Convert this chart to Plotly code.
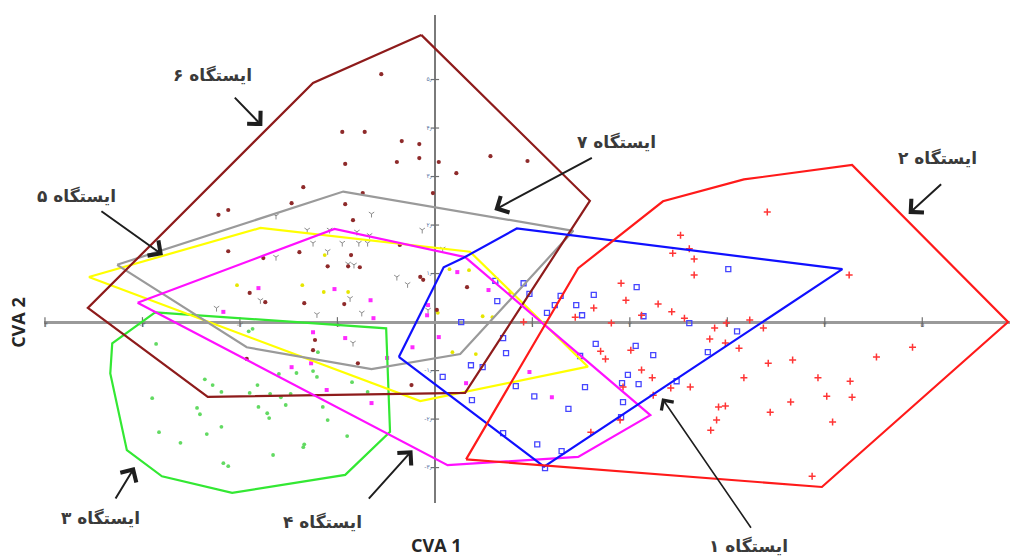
import plotly.graph_objects as go

# ---------------- data (CVA 1, CVA 2) ----------------
# convex hull vertices per station
h1_x = [-0.37, 0.09, 0.29, 0.84, 4.18, 1.12]
h1_y = [-0.72, 1.13, 1.32, 1.93, 1.09, -2.98]
h2_x = [0.32, 1.47, 2.34, 3.17, 4.28, 5.88, 3.97]
h2_y = [-2.83, 1.11, 2.49, 2.94, 3.24, 0.00, -3.40]
h3_x = [-2.87, -0.50, -0.46, -0.92, -2.08, -2.80, -3.16, -3.33, -3.31]
h3_y = [0.20, -0.13, -2.26, -3.15, -3.52, -3.18, -2.64, -1.06, -0.44]
h4_x = [-3.05, -1.03, 0.31, 2.21, 1.47, 0.13]
h4_y = [0.40, 1.92, 1.34, -1.92, -2.78, -2.95]
h5_x = [-3.55, -1.79, 0.36, 1.57, -0.15]
h5_y = [0.93, 1.94, 1.45, -0.92, -1.63]
h6_x = [-0.14, -1.25, -3.56, -2.33, 0.31, 1.59]
h6_y = [5.92, 4.93, 0.29, -1.54, -1.46, 2.50]
h7_x = [-3.26, -1.93, -0.65, 0.26, 1.42, -0.94]
h7_y = [1.18, -0.52, -0.97, -0.66, 1.88, 2.69]

# observations per station
p1_x = [0.62, 0.64, 0.91, 0.97, 1.23, 1.29, 1.15, 1.45, 1.51, 1.63, 2.07, 3.01, 2.14, 0.27,
        0.70, 0.73, 1.65, 2.06, 2.24, 1.49, 0.37, 0.49, 0.08, 0.83, 0.38, 1.02, 1.54, 1.92,
        2.09, 1.98, 1.93, 1.37, 1.91, 2.80, 2.61, 0.70, 1.05, 1.30, 1.13, 2.48, 3.10]
p1_y = [0.85, 0.43, 0.80, 0.58, 0.35, 0.54, 0.19, 0.35, 0.14, 0.56, 0.72, 1.09, 0.12, 0.00,
        -0.33, -0.64, -0.45, -0.49, -0.68, -0.70, -0.89, -0.93, -1.13, -1.32, -1.61, -1.53, -1.34, -1.26,
        -1.28, -1.09, -1.65, -1.79, -1.96, -0.62, -0.02, -2.29, -2.52, -2.66, -3.01, -1.22, -0.19]
p2_x = [3.41, 2.52, 2.61, 2.44, 2.66, 2.66, 4.25, 1.91, 1.96, 2.29, 1.63, 2.43, 2.56, 2.12,
        1.44, 1.81, 3.23, 2.87, 2.99, 3.37, 2.82, 2.98, 3.12, 4.90, 4.53, 1.70, 1.75, 2.01,
        3.42, 3.67, 2.12, 2.23, 3.17, 3.93, 4.26, 1.93, 2.62, 2.24, 2.42, 4.02, 4.28, 3.65,
        2.91, 2.98, 3.44, 2.89, 2.83, 4.08, 1.60, 3.87, 1.90, 0.91]
p2_y = [2.27, 1.79, 1.51, 1.42, 1.30, 0.97, 0.97, 0.80, 0.45, 0.37, 0.29, 0.21, 0.08, 0.14,
        0.10, -0.02, 0.04, -0.12, -0.02, -0.12, -0.35, -0.43, -0.54, -0.52, -0.72, -0.60, -0.76, -0.58,
        -0.85, -0.78, -0.99, -1.15, -1.15, -1.15, -1.22, -1.34, -1.34, -1.51, -1.36, -1.53, -1.55, -1.65,
        -1.75, -1.73, -1.86, -2.02, -2.23, -2.06, -2.27, -3.18, -2.02, 0.00]
p3_x = [-2.86, -2.36, -2.28, -2.19, -2.90, -2.44, -2.41, -2.19, -2.83, -2.34, -2.61, -2.17, -2.12,
        -1.82, -1.69, -1.58, -1.53, -1.48, -1.81, -1.72, -1.70, -1.60, -1.42, -1.21, -1.25, -1.20,
        -0.85, -0.69, -1.15, -1.10, -0.90, -1.34, -1.35, -1.66, -1.90, -1.91, -1.87]
p3_y = [-0.45, -1.18, -1.30, -1.44, -1.57, -1.77, -1.90, -2.16, -2.27, -2.31, -2.49, -2.91, -2.97,
        -1.30, -1.48, -1.55, -1.71, -1.48, -1.75, -1.88, -1.98, -1.07, -1.05, -1.13, -1.01, -0.62,
        -1.24, -1.44, -1.75, -2.02, -2.35, -2.52, -2.58, -2.74, -1.46, -0.19, -0.14]
p4_x = [-1.81, -1.03, -0.66, -2.17, -1.25, -0.92, -0.63, -1.47, -1.27, -1.11, -0.65, -0.23,
        -0.49, -0.08, 0.04, 0.32, 0.23, 0.55, 0.97, 1.20, -0.07]
p4_y = [0.70, 0.68, 0.45, 0.21, -0.21, -0.33, 0.08, -0.93, -0.85, -1.40, -1.67, -0.52,
        -0.74, 0.14, -0.31, -1.26, 1.03, 0.66, -1.03, -1.55, 0.35]
p5_x = [-2.03, -1.36, -1.13, -0.89, -1.14, 0.15, 0.35, 0.18, 0.42, 0.59, 0.49, 0.77, 0.03]
p5_y = [0.76, 0.76, 1.38, 0.62, 0.62, 1.09, 1.07, -0.62, -0.66, 0.10, 0.12, 0.60, 0.19]
p6_x = [-0.55, -0.95, -0.72, -0.34, -0.16, -0.92, -0.39, -0.16, 0.04, 0.22, -0.02, -1.35, -1.47,
        -0.92, -0.74, -0.84, -2.22, -2.12, -2.12, -1.39, -1.76, -1.10, -0.86, -0.89, -0.77, -0.36,
        -0.15, -1.90, -1.74, -1.34, -0.93, 0.57, 0.95, 0.02, -1.23, -1.25, 0.33, -0.12, -0.24,
        -1.93, -0.79]
p6_y = [5.11, 3.92, 3.92, 3.73, 3.67, 3.26, 3.30, 3.38, 3.30, 3.07, 2.66, 2.78, 2.45,
        2.43, 2.66, 2.10, 2.21, 2.31, 1.46, 1.44, 1.32, 1.15, 1.38, 1.15, 1.13, 1.59,
        0.93, 0.60, 0.41, 0.39, 0.37, 3.42, 3.32, 0.25, -0.37, -0.58, 0.72, 0.87, -1.30,
        -0.76, -0.85]
p7_x = [-1.63, -0.65, -1.08, -1.31, -0.80, -0.67, -0.13, -1.25, -1.10, -0.95, -0.78, -0.69, -1.63,
        -0.83, -0.39, -0.28, -0.87, -1.79, 0.08, -2.24, -1.21, -0.75, -0.84, -0.07, -0.89]
p7_y = [2.19, 2.23, 1.90, 1.90, 1.86, 1.79, 1.90, 1.63, 1.46, 1.63, 1.63, 1.63, 1.34,
        1.18, 0.93, 0.78, 0.49, 0.45, 1.51, 0.29, 0.16, 0.19, -0.43, 0.25, 1.20]

# axis ticks
x_ticks = [-4, -3, -2, -1, 1, 2, 3, 4, 5]
x_tick_labels = ["-۴", "-۳", "-۲", "-۱", "۱", "۲", "۳", "۴", "۵"]
y_ticks = [-3, -2, -1, 1, 2, 3, 4, 5]
y_tick_labels = ["-۳٫۰", "-۲٫۰", "-۱٫۰", "۱٫۰", "۲٫۰", "۳٫۰", "۴٫۰", "۵٫۰"]

station_names = ["ایستگاه ۱", "ایستگاه ۲", "ایستگاه ۳", "ایستگاه ۴",
                 "ایستگاه ۵", "ایستگاه ۶", "ایستگاه ۷"]

# ---------------- styles ----------------
colors = {1: "#1010FF", 2: "#FF1A1A", 3: "#33E833", 4: "#FF10FF",
          5: "#FFFF00", 6: "#8E1B1B", 7: "#9A9A9A"}
pt_colors = {1: "#4646FF", 2: "#FF3535", 3: "#62DA62", 4: "#FF2AFF",
             5: "#E6E600", 6: "#8E2A2A", 7: "#8C8C8C"}
pt_symbols = {1: "square-open", 2: "cross-thin-open", 3: "circle", 4: "square",
              5: "circle", 6: "circle", 7: "y-down-open"}
pt_sizes = {1: 5, 2: 5, 3: 3.8, 4: 4, 5: 3.8, 6: 4.2, 7: 4.5}
pt_lw = {1: 1.3, 2: 1.5, 3: 0, 4: 0, 5: 0, 6: 0, 7: 1.0}

points = {1: (p1_x, p1_y), 2: (p2_x, p2_y), 3: (p3_x, p3_y), 4: (p4_x, p4_y),
          5: (p5_x, p5_y), 6: (p6_x, p6_y), 7: (p7_x, p7_y)}
hulls = {1: (h1_x, h1_y), 2: (h2_x, h2_y), 3: (h3_x, h3_y), 4: (h4_x, h4_y),
         5: (h5_x, h5_y), 6: (h6_x, h6_y), 7: (h7_x, h7_y)}

fig = go.Figure()

# tick marks and tick labels on the crossing axes
fig.add_trace(go.Scatter(x=x_ticks, y=[0] * len(x_ticks), mode="markers",
                         marker=dict(symbol="line-ns", size=7, line=dict(width=1.2, color="#707070")),
                         hoverinfo="skip", showlegend=False))
fig.add_trace(go.Scatter(x=[0] * len(y_ticks), y=y_ticks, mode="markers",
                         marker=dict(symbol="line-ew", size=6, line=dict(width=1.2, color="#707070")),
                         hoverinfo="skip", showlegend=False))
fig.add_trace(go.Scatter(x=x_ticks, y=[0] * len(x_ticks), mode="text", text=x_tick_labels,
                         textposition="bottom center",
                         textfont=dict(size=7, color="#666666", family="DejaVu Sans"),
                         hoverinfo="skip", showlegend=False))
fig.add_trace(go.Scatter(x=[0] * len(y_ticks), y=y_ticks, mode="text", text=y_tick_labels,
                         textposition="middle left",
                         textfont=dict(size=6, color="#5570A0", family="DejaVu Sans"),
                         hoverinfo="skip", showlegend=False))

# observations
for k in [3, 5, 7, 6, 4, 1, 2]:
    xs, ys = points[k]
    fig.add_trace(go.Scatter(
        x=xs, y=ys, mode="markers", name=station_names[k - 1], showlegend=False,
        marker=dict(symbol=pt_symbols[k], size=pt_sizes[k], color=pt_colors[k],
                    line=dict(width=pt_lw[k], color=pt_colors[k]))))

# convex hulls
for k in [3, 5, 7, 6, 4, 1, 2]:
    xs, ys = hulls[k]
    fig.add_trace(go.Scatter(
        x=list(xs) + [xs[0]], y=list(ys) + [ys[0]], mode="lines",
        line=dict(color=colors[k], width=2.2), hoverinfo="skip", showlegend=False))

# station labels (paper coords) and arrows (head in data coords, tail offset in px)
label_pos = {6: (0.174, 0.877), 5: (0.034, 0.629), 7: (0.593, 0.740), 2: (0.925, 0.707),
             3: (0.058, -0.031), 4: (0.288, -0.039), 1: (0.729, -0.088)}
arrow_spec = {6: (-1.77, 4.04, -29, -30), 5: (-2.79, 1.38, -63, -45), 7: (0.61, 2.31, 99, -53),
              2: (4.86, 2.23, 34, -31), 3: (-3.08, -2.99, -20, 33), 4: (-0.23, -2.64, -45, 50),
              1: (2.33, -1.57, 90, 131)}

annotations = []
for k, (px, py) in label_pos.items():
    annotations.append(dict(xref="paper", yref="paper", x=px, y=py,
                            text="<b>" + station_names[k - 1] + "</b>",
                            showarrow=False, xanchor="center", yanchor="middle",
                            font=dict(family="DejaVu Sans", size=17, color="#3a3a3a")))
for k, (hx, hy, ax, ay) in arrow_spec.items():
    annotations.append(dict(xref="x", yref="y", x=hx, y=hy, ax=ax, ay=ay, text="",
                            showarrow=True, arrowhead=4, arrowsize=1.8,
                            arrowwidth=2 if k != 1 else 1.6, arrowcolor="#1e1e1e", standoff=0))
annotations.append(dict(xref="paper", yref="paper", x=0.406, y=-0.086, text="<b>CVA 1</b>",
                        showarrow=False, xanchor="center", yanchor="middle",
                        font=dict(family="Open Sans", size=18, color="#262626")))
annotations.append(dict(xref="paper", yref="paper", x=-0.027, y=0.371, text="<b>CVA 2</b>",
                        showarrow=False, xanchor="center", yanchor="middle", textangle=-90,
                        font=dict(family="Open Sans", size=18, color="#262626")))

fig.update_layout(
    width=1010, height=556,
    margin=dict(l=44, r=0, t=15, b=53),
    paper_bgcolor="white", plot_bgcolor="white",
    showlegend=False,
    annotations=annotations,
    xaxis=dict(range=[-4.01, 5.90], showgrid=False, showticklabels=False, ticks="",
               zeroline=True, zerolinecolor="#7a7a7a", zerolinewidth=2, showline=False,
               fixedrange=True),
    yaxis=dict(range=[-3.73, 6.33], showgrid=False, showticklabels=False, ticks="",
               zeroline=True, zerolinecolor="#9a9a9a", zerolinewidth=2.5, showline=False,
               fixedrange=True),
)

fig.write_html("out.html", config={"displayModeBar": False},
               post_script="document.body.style.margin='0';document.body.style.overflow='hidden';")
